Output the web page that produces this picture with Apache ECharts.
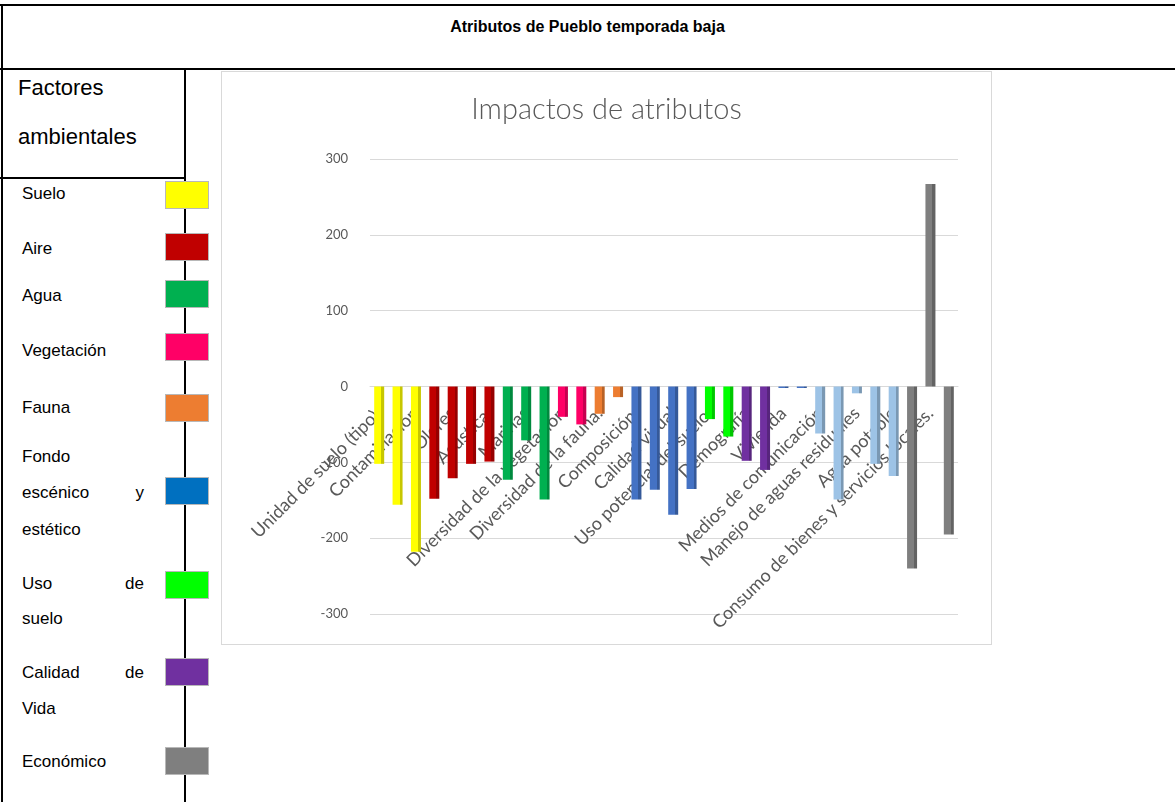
<!DOCTYPE html>
<html>
<head>
<meta charset="utf-8">
<script src="https://cdn.jsdelivr.net/npm/echarts@6/dist/echarts.min.js"></script>
<style>
  html, body { margin:0; padding:0; background:#fff; }
  #page { position:relative; width:1175px; height:802px; overflow:hidden; font-family:"Liberation Sans", Arial, sans-serif; color:#000; }
  .ln { position:absolute; background:#000; }
  .txt { position:absolute; white-space:nowrap; line-height:1; }
  .lg { position:absolute; left:22px; font-size:17px; line-height:1; white-space:nowrap; }
  .just { width:122px; text-align:justify; text-align-last:justify; }
  .box { position:absolute; left:165px; width:42px; height:26px; border:1px solid #b8b8b8; box-sizing:content-box; }
  #frame { position:absolute; left:221px; top:71px; width:769px; height:572px; border:1px solid #d9d9d9; }
  #chart { position:absolute; left:221px; top:71px; width:771px; height:574px; }
</style>
</head>
<body>
<div id="page">
  <div class="ln" style="left:0;top:4px;width:1175px;height:2px;"></div>
  <div class="ln" style="left:1px;top:4px;width:2px;height:798px;"></div>
  <div class="ln" style="left:0;top:68px;width:1175px;height:2px;"></div>
  <div class="ln" style="left:184px;top:68px;width:2px;height:734px;"></div>
  <div class="ln" style="left:0;top:177px;width:186px;height:2px;"></div>
  <div class="txt" id="mainTitle" style="left:0;width:1175px;top:19px;text-align:center;font-weight:bold;font-size:16px;"></div>
  <div class="txt" style="left:18px;top:77px;font-size:22px;">Factores</div>
  <div class="txt" style="left:18px;top:126px;font-size:22px;">ambientales</div>
  <div id="legend"></div>
  <div id="frame"></div>
  <div id="chart"></div>
</div>
<script>
// ---- data ----
const mainTitle = "Atributos de Pueblo temporada baja";
const chartTitle = "Impactos de atributos";
const categories = [
  "Unidad de suelo (tipo).", "", "Contaminación", "", "Olores", "", "Acústica.", "",
  "Marinas", "", "Diversidad de la vegetación", "", "Diversidad de la fauna.", "", "Composición.", "",
  "Calidad visual", "", "Uso potencial del suelo.", "", "Demografía", "", "Vivienda", "",
  "Medios de comunicación", "", "Manejo de aguas residuales", "", "Agua potable", "", "Consumo de bienes y servicios locales.", ""
];
const values = [
  -102, -156, -218, -148, -121, -102, -99, -123,
  -71, -149, -40, -50, -36, -14, -149, -136,
  -169, -135, -43, -66, -98, -110, -2, -2,
  -62, -149, -9, -102, -118, -240, 267, -195
];
const barGroups = [
  "suelo","suelo","suelo","aire","aire","aire","aire","agua",
  "agua","agua","vegetacion","vegetacion","fauna","fauna","fondo","fondo",
  "fondo","fondo","uso","uso","calidad","calidad","fondo","fondo",
  "servicios","servicios","servicios","servicios","servicios","economico","economico","economico"
];
const yTicks = [-300, -200, -100, 0, 100, 200, 300];
const legendItems = [
  { key:"suelo", lines:["Suelo"] },
  { key:"aire", lines:["Aire"] },
  { key:"agua", lines:["Agua"] },
  { key:"vegetacion", lines:["Vegetación"] },
  { key:"fauna", lines:["Fauna"] },
  { key:"fondoLegend", lines:["Fondo", "escénico y", "estético"] },
  { key:"uso", lines:["Uso de", "suelo"] },
  { key:"calidad", lines:["Calidad de", "Vida"] },
  { key:"economico", lines:["Económico"] }
];

// ---- styles ----
const colorMap = {
  suelo:"#FFFF00", aire:"#C00000", agua:"#00B050", vegetacion:"#FF0066", fauna:"#ED7D31",
  fondo:"#4472C4", fondoLegend:"#0070C0", uso:"#00FF00", calidad:"#7030A0",
  servicios:"#9DC3E6", economico:"#7F7F7F"
};
const legendLayout = [
  { textTops:[185], boxTop:181 },
  { textTops:[240], boxTop:233 },
  { textTops:[287], boxTop:280 },
  { textTops:[342], boxTop:333 },
  { textTops:[399], boxTop:394 },
  { textTops:[448, 484, 521], boxTop:477 },
  { textTops:[575, 610], boxTop:571 },
  { textTops:[664, 700], boxTop:658 },
  { textTops:[753], boxTop:747 }
];

document.getElementById('mainTitle').textContent = mainTitle;
const lg = document.getElementById('legend');
legendItems.forEach((it, i) => {
  const lay = legendLayout[i];
  it.lines.forEach((t, j) => {
    const d = document.createElement('div');
    d.className = 'lg' + (t.indexOf(' ') > 0 ? ' just' : '');
    d.style.top = lay.textTops[j] + 'px';
    d.textContent = t;
    lg.appendChild(d);
  });
  const b = document.createElement('div');
  b.className = 'box';
  b.style.top = lay.boxTop + 'px';
  b.style.background = colorMap[it.key];
  lg.appendChild(b);
});

function shade(hex, f) {
  const n = parseInt(hex.slice(1), 16);
  const r = Math.round(((n >> 16) & 255) * f), g = Math.round(((n >> 8) & 255) * f), b = Math.round((n & 255) * f);
  return 'rgb(' + r + ',' + g + ',' + b + ')';
}
function barColor(hex) {
  return new echarts.graphic.LinearGradient(0, 0, 1, 0, [
    { offset:0, color:hex }, { offset:0.7, color:hex },
    { offset:0.7, color:shade(hex, 0.78) }, { offset:1, color:shade(hex, 0.78) }
  ]);
}

const chartH = 574, gridTop = 88, gridBottom = 31;
const yMin = yTicks[0], yMax = yTicks[yTicks.length - 1];
// move the category axis (and its labels) up to the zero line
const zeroOffset = -(chartH - gridTop - gridBottom) * (0 - yMin) / (yMax - yMin);

const chart = echarts.init(document.getElementById('chart'), null, { renderer:'canvas' });
chart.setOption({
  animation:false,
  title:{ text:chartTitle, left:'center', top:19,
    textStyle:{ color:'#595959', fontSize:29, fontWeight:300, fontFamily:'Lato' } },
  grid:{ left:149, right:34, top:gridTop, bottom:gridBottom, containLabel:false, outerBoundsMode:'none' },
  xAxis:{
    type:'category', data:categories, position:'bottom', offset:zeroOffset,
    axisLine:{ show:true, onZero:false, lineStyle:{ color:'#d9d9d9', width:1 } },
    axisTick:{ show:false },
    axisLabel:{ interval:0, rotate:45, color:'#595959', fontSize:18, fontFamily:'Lato', margin:24 }
  },
  yAxis:{
    type:'value', min:yMin, max:yMax, interval:100,
    axisLine:{ show:false }, axisTick:{ show:false },
    axisLabel:{ color:'#595959', fontSize:13, fontFamily:'Lato', margin:22 },
    splitLine:{ lineStyle:{ color:'#d9d9d9', width:1 } }
  },
  series:[{
    type:'bar', barWidth:10,
    data: values.map((v, i) => ({ value:v, itemStyle:{ color:barColor(colorMap[barGroups[i]]) } }))
  }]
});
</script>
</body>
</html>
